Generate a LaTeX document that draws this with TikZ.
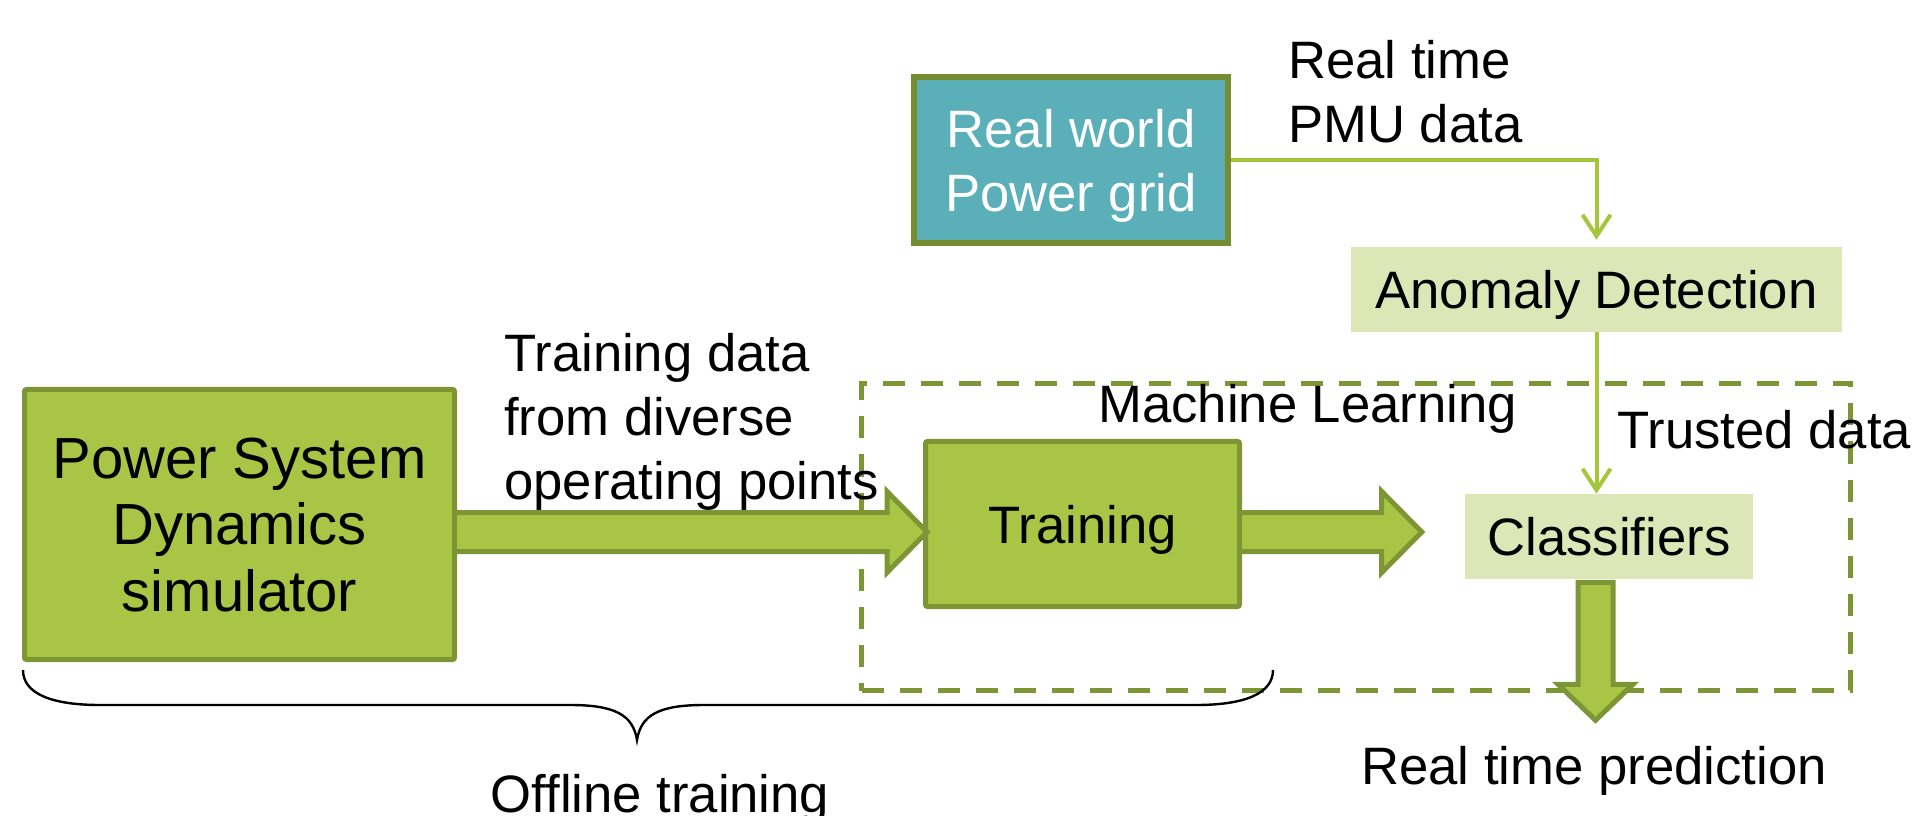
\documentclass[tikz,border=0pt]{standalone}
\usepackage{fontspec}
\setmainfont{Liberation Sans}
\usetikzlibrary{calc,arrows.meta}

\definecolor{leaf}{RGB}{168,197,70}
\definecolor{olive}{RGB}{126,149,54}
\definecolor{rwedge}{RGB}{118,140,48}
\definecolor{wire}{RGB}{166,198,58}
\definecolor{pale}{RGB}{221,230,183}
\definecolor{gridteal}{RGB}{90,175,184}

\tikzset{
  txt/.style={font=\fontsize{39.5}{48}\selectfont, inner sep=0pt},
  greenbox/.style={draw=olive, fill=leaf, line width=3.75pt, rounded corners=1.5pt},
  palebox/.style={fill=pale, inner sep=0pt},
  blockarrow/.style={draw=olive, fill=leaf, line width=3.75pt, line join=miter},
  wireline/.style={draw=wire, line width=3pt, -{Straight Barb[length=16pt,width=21pt]}},
  mlframe/.style={draw=olive, line width=3.75pt, dash pattern=on 16.5pt off 12pt},
  bracepen/.style={draw=black, line width=1.8pt},
}

\begin{document}
\begin{tikzpicture}[x=0.75pt, y=-0.75pt]
\useasboundingbox (0,0) rectangle (1917,816);

% machine learning frame
\node[mlframe, minimum width=741.75pt, minimum height=230.25pt, inner sep=0pt] (ml) at (1356,537) {};

% free labels (multi-line ones are anchored on their last baseline)
\node[txt, anchor=base west, align=left] (tdlab) at (504,499)
  {Training data\\from diverse\\operating points};
\node[txt, anchor=base west] (mllab) at (1098,423) {Machine Learning};
\node[txt, anchor=base west] (trust) at (1617,449) {Trusted data};
\node[txt, anchor=base west, align=left] (pmu) at (1288,143) {Real time\\PMU data};
\node[txt, anchor=base] (rtp) at (1594,784) {Real time prediction};
\node[txt, anchor=base] (off) at (660,812) {Offline training};

% boxes
\node[greenbox, minimum width=322.5pt, minimum height=202.5pt, inner sep=0pt,
      align=center, text depth=0pt, font=\fontsize{43.5}{50}\selectfont] (sim)
      at (239.5,524.5) {Power System\\Dynamics\\simulator};
\node[greenbox, txt, text depth=0pt, minimum width=235.5pt, minimum height=123.75pt] (train)
      at (1082.5,524) {Training};
\node[palebox, txt, text depth=0pt, minimum width=216pt, minimum height=63.75pt] (cls)
      at (1609,536.5) {Classifiers};
\node[palebox, txt, text depth=0pt, minimum width=368.25pt, minimum height=63.75pt] (ad)
      at (1596.5,289.5) {Anomaly Detection};
\node[draw=rwedge, fill=gridteal, line width=4.5pt, txt, text=white, align=center,
      text depth=0pt, minimum width=235.5pt, minimum height=124.5pt] (rw)
      at (1071,160) {Real world\\Power grid};

% block arrows
\coordinate (a1s) at ($(sim.east)+(0,7.5)$);
\path (train.west |- a1s) coordinate (a1x);
\coordinate (a1t) at ($(a1x)+(4,0)$);
\draw[blockarrow] ($(a1s)+(0,-19.5)$) -- ($(a1t)+(-40,-19.5)$) -- ($(a1t)+(-40,-40.5)$)
  -- (a1t) -- ($(a1t)+(-40,40.5)$) -- ($(a1t)+(-40,19.5)$) -- ($(a1s)+(0,19.5)$);

\path (train.east |- a1s) coordinate (a2s);
\path (cls.west |- a1s) coordinate (a2x);
\coordinate (a2t) at ($(a2x)+(-43,0)$);
\draw[blockarrow] ($(a2s)+(0,-19.5)$) -- ($(a2t)+(-40,-19.5)$) -- ($(a2t)+(-40,-40.5)$)
  -- (a2t) -- ($(a2t)+(-40,40.5)$) -- ($(a2t)+(-40,19.5)$) -- ($(a2s)+(0,19.5)$);

\coordinate (a3s) at ($(cls.south)+(-13.5,3)$);
\coordinate (a3t) at ($(a3s)+(0,138)$);
\draw[blockarrow] ($(a3s)+(-17.5,0)$) -- ($(a3t)+(-17.5,-36)$) -- ($(a3t)+(-37.5,-36)$)
  -- (a3t) -- ($(a3t)+(37.5,-36)$) -- ($(a3t)+(17.5,-36)$) -- ($(a3s)+(17.5,0)$) -- cycle;

% thin connectors
\draw[wireline] (rw.east) -| ($(ad.north)+(0,-7)$);
\draw[wireline] (ad.south) -- (ad.south |- cls.north);

% brace under the offline part
\coordinate (bL) at (23,670);
\coordinate (bR) at (1273,670);
\coordinate (bT) at (637,740);
\draw[bracepen] (bL) .. controls (23,693) and (50,705) .. (100,705) -- (570,705)
  .. controls (615,705) and (633,715) .. (bT)
  .. controls (641,715) and (659,705) .. (704,705) -- (1196,705)
  .. controls (1246,705) and (1273,693) .. (bR);
\end{tikzpicture}
\end{document}
